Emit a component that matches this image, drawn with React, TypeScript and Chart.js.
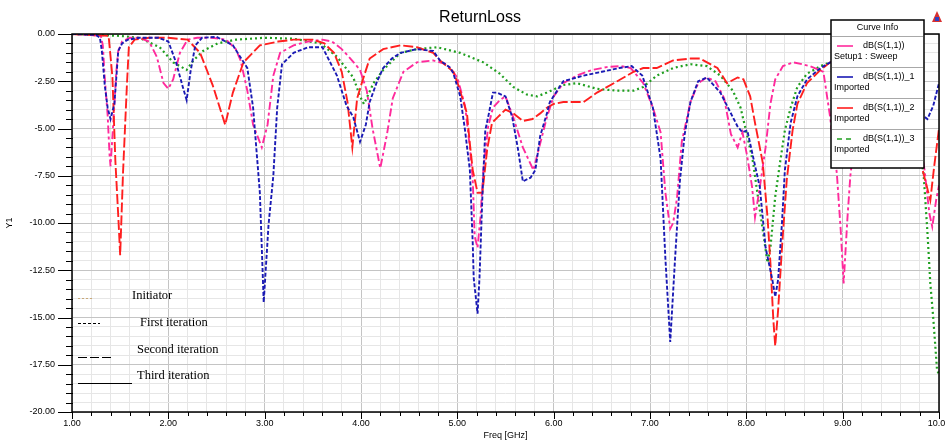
import React, { useEffect, useRef } from "react";
import { Chart, registerables } from "chart.js";

Chart.register(...registerables);

// ---------- data (frequency in GHz, return loss in dB) ----------
const xMin = 1;
const xMax = 10;
const yMin = -20;
const yMax = 0;

const seriesNames = ["dB(S(1,1))", "dB(S(1,1))_1", "dB(S(1,1))_2", "dB(S(1,1))_3"];
const seriesSources = ["Setup1 : Sweep", "Imported", "Imported", "Imported"];
const iterationLabels = ["Initiator", "First iteration", "Second iteration", "Third iteration"];

const pinkCurve: [number, number][] = [
  [1.0, 0], [1.2, -0.05], [1.3, -0.1], [1.32, -0.6], [1.34, -2.3], [1.37, -4.3], [1.39, -6.4], [1.4, -7.0],
  [1.43, -4.6], [1.46, -2.0], [1.48, -0.9], [1.52, -0.4], [1.6, -0.2], [1.7, -0.2], [1.8, -0.4], [1.88, -1.2],
  [1.95, -2.6], [2.0, -2.9], [2.05, -2.4], [2.12, -1.0], [2.2, -0.3], [2.3, -0.2], [2.45, -0.2], [2.6, -0.3],
  [2.7, -0.8], [2.75, -1.4], [2.82, -3.0], [2.88, -4.8], [2.97, -6.0], [3.03, -4.8], [3.09, -2.2], [3.16, -1.0],
  [3.3, -0.6], [3.45, -0.4], [3.6, -0.3], [3.7, -0.4], [3.8, -0.8], [3.89, -1.3], [3.99, -1.9], [4.06, -3.0],
  [4.12, -5.0], [4.2, -7.1], [4.27, -5.3], [4.33, -3.4], [4.44, -2.0], [4.58, -1.5], [4.75, -1.4], [4.89, -1.6],
  [5.0, -2.3], [5.08, -3.8], [5.13, -6.0], [5.16, -7.7], [5.18, -10.7], [5.21, -11.3], [5.24, -9.7], [5.27, -7.2],
  [5.32, -4.9], [5.37, -3.9], [5.44, -3.5], [5.5, -3.3], [5.58, -4.4], [5.68, -6.0], [5.79, -7.2], [5.86, -5.8],
  [5.93, -4.4], [6.0, -3.3], [6.1, -2.6], [6.24, -2.2], [6.4, -1.9], [6.55, -1.75], [6.7, -1.7], [6.8, -1.8],
  [6.93, -2.6], [7.03, -3.9], [7.11, -5.2], [7.16, -8.4], [7.21, -10.3], [7.24, -10.0], [7.28, -8.7], [7.33, -5.7],
  [7.42, -3.6], [7.5, -2.6], [7.59, -2.3], [7.68, -2.5], [7.77, -3.4], [7.84, -5.3], [7.91, -6.0], [7.96, -5.2],
  [8.01, -6.5], [8.06, -8.1], [8.09, -9.7], [8.14, -8.1], [8.2, -6.0], [8.25, -3.7], [8.3, -2.4], [8.38, -1.7],
  [8.49, -1.5], [8.58, -1.6], [8.66, -1.7], [8.8, -2.0], [8.87, -4.4], [8.94, -7.4], [8.98, -10.4], [9.01, -13.2],
  [9.05, -9.7], [9.08, -7.5], [9.15, -4.5], [9.25, -2.5], [9.4, -1.8], [9.55, -2.0], [9.7, -3.5], [9.8, -5.5],
  [9.85, -7.2], [9.9, -9.5], [9.93, -10.2], [9.97, -8.8], [10.0, -8.0],
];

const blueCurve: [number, number][] = [
  [1.0, 0], [1.25, -0.05], [1.29, -0.2], [1.31, -0.9], [1.34, -2.7], [1.37, -3.9], [1.4, -4.5], [1.44, -3.7],
  [1.46, -2.3], [1.48, -0.9], [1.52, -0.5], [1.58, -0.3], [1.7, -0.2], [1.9, -0.2], [2.0, -0.4], [2.08, -1.5],
  [2.15, -2.8], [2.19, -3.5], [2.23, -2.0], [2.28, -0.6], [2.35, -0.2], [2.5, -0.15], [2.67, -0.6], [2.82, -1.8],
  [2.88, -3.9], [2.95, -8.4], [2.99, -14.2], [3.04, -10.1], [3.09, -7.5], [3.13, -3.9], [3.18, -1.6], [3.3, -1.0],
  [3.45, -0.7], [3.6, -0.7], [3.75, -2.2], [3.85, -3.8], [3.92, -4.4], [3.99, -5.7], [4.05, -4.8], [4.09, -3.6],
  [4.16, -2.6], [4.23, -1.8], [4.32, -1.3], [4.41, -1.0], [4.58, -0.8], [4.75, -0.9], [4.82, -1.4], [4.93, -1.8],
  [4.96, -2.1], [5.03, -3.3], [5.08, -5.1], [5.13, -7.2], [5.16, -11.1], [5.17, -12.9], [5.21, -14.8], [5.23, -12.9],
  [5.26, -8.6], [5.29, -5.1], [5.32, -4.4], [5.37, -3.1], [5.41, -3.1], [5.5, -3.3], [5.57, -4.4], [5.63, -6.1],
  [5.68, -7.8], [5.76, -7.6], [5.81, -7.2], [5.86, -5.4], [5.93, -4.2], [5.96, -3.6], [6.1, -2.5], [6.31, -2.2],
  [6.5, -2.0], [6.68, -1.8], [6.81, -1.7], [6.92, -2.2], [7.03, -3.9], [7.11, -6.6], [7.16, -11.9], [7.21, -16.3],
  [7.26, -11.9], [7.31, -7.8], [7.36, -5.3], [7.42, -3.6], [7.5, -2.5], [7.59, -2.3], [7.73, -3.1], [7.83, -4.1],
  [7.91, -4.9], [7.96, -5.2], [8.01, -5.1], [8.07, -6.5], [8.14, -8.1], [8.2, -11.3], [8.27, -13.0], [8.3, -13.9],
  [8.33, -13.0], [8.37, -10.0], [8.4, -7.2], [8.46, -4.7], [8.53, -3.3], [8.63, -2.4], [8.77, -1.8], [8.87, -1.5],
  [9.0, -1.4], [9.2, -1.5], [9.45, -2.2], [9.65, -3.2], [9.8, -4.2], [9.88, -4.5], [9.94, -3.8], [10.0, -2.6],
];

const redCurve: [number, number][] = [
  [1.0, 0], [1.38, -0.1], [1.42, -2.3], [1.45, -6.7], [1.48, -9.6], [1.5, -11.7], [1.53, -7.3], [1.55, -5.0],
  [1.57, -2.7], [1.59, -0.7], [1.65, -0.3], [1.8, -0.2], [2.0, -0.2], [2.2, -0.3], [2.33, -1.0], [2.46, -2.7],
  [2.59, -4.8], [2.67, -3.1], [2.78, -1.5], [2.95, -0.6], [3.14, -0.4], [3.3, -0.3], [3.5, -0.3], [3.62, -0.5],
  [3.72, -1.0], [3.8, -2.0], [3.86, -3.6], [3.91, -6.0], [3.96, -3.4], [4.02, -2.4], [4.09, -1.3], [4.23, -0.8],
  [4.41, -0.6], [4.58, -0.7], [4.75, -1.0], [4.82, -1.4], [4.96, -2.0], [5.01, -2.7], [5.1, -4.2], [5.13, -5.8],
  [5.16, -7.2], [5.21, -8.4], [5.26, -8.4], [5.31, -6.1], [5.36, -4.7], [5.42, -4.4], [5.5, -4.0], [5.58, -4.2],
  [5.68, -4.6], [5.78, -4.5], [5.86, -4.2], [5.93, -3.9], [6.0, -3.7], [6.1, -3.6], [6.31, -3.6], [6.45, -3.1],
  [6.66, -2.5], [6.83, -2.0], [6.93, -1.8], [7.07, -1.8], [7.24, -1.4], [7.42, -1.3], [7.52, -1.3], [7.7, -1.8],
  [7.8, -2.6], [7.91, -2.3], [7.97, -2.4], [8.04, -3.3], [8.09, -4.7], [8.17, -6.8], [8.22, -9.7], [8.25, -12.1],
  [8.28, -15.1], [8.3, -16.5], [8.33, -14.6], [8.37, -11.3], [8.42, -7.7], [8.48, -5.1], [8.53, -3.7], [8.63, -2.6],
  [8.77, -1.9], [8.87, -1.5], [9.0, -1.4], [9.2, -1.6], [9.4, -2.2], [9.6, -3.5], [9.75, -5.5], [9.84, -7.4],
  [9.91, -8.8], [9.95, -7.0], [10.0, -5.0],
];

const greenCurve: [number, number][] = [
  [1.0, 0], [1.5, -0.1], [1.7, -0.2], [1.91, -0.7], [2.05, -1.5], [2.19, -1.9], [2.26, -1.4], [2.36, -0.9],
  [2.51, -0.5], [2.7, -0.3], [3.0, -0.2], [3.3, -0.25], [3.58, -0.5], [3.75, -1.2], [3.92, -2.3], [3.99, -3.3],
  [4.03, -3.7], [4.13, -2.6], [4.23, -1.9], [4.41, -1.0], [4.58, -0.8], [4.79, -0.7], [5.03, -1.0], [5.27, -1.5],
  [5.44, -2.1], [5.58, -2.8], [5.72, -3.2], [5.83, -3.3], [5.93, -3.1], [6.1, -2.7], [6.24, -2.6], [6.45, -2.9],
  [6.66, -3.0], [6.83, -3.0], [6.93, -2.8], [7.07, -2.2], [7.24, -1.8], [7.42, -1.6], [7.59, -1.7], [7.73, -2.2],
  [7.86, -3.0], [7.94, -3.9], [8.01, -5.4], [8.07, -6.8], [8.12, -8.6], [8.18, -10.7], [8.22, -12.1], [8.25, -11.3],
  [8.3, -8.6], [8.35, -6.8], [8.4, -5.1], [8.46, -3.9], [8.53, -2.8], [8.63, -2.1], [8.77, -1.7], [8.87, -1.5],
  [9.0, -1.4], [9.3, -1.5], [9.55, -2.2], [9.7, -3.8], [9.8, -6.0], [9.84, -7.4], [9.88, -10.5], [9.91, -13.2],
  [9.94, -15.0], [9.98, -17.8], [10.0, -18.0],
];

// ---------- styles ----------
const COLORS = ["#ff2a9c", "#1a1ab4", "#ff1f1f", "#1f9f1f"];
const DASHES = [[8, 3, 3, 3], [4, 2], [10, 3], [2, 3]];
const FONT_SANS = '"Liberation Sans", Arial, sans-serif';
const FONT_SERIF = '"Liberation Serif", "Times New Roman", serif';

const isMajorX = (v: number) => Math.abs(v - Math.round(v)) < 1e-6;
const isMajorY = (v: number) => Math.abs(v / 2.5 - Math.round(v / 2.5)) < 1e-6;

const overlayPlugin = {
  id: "overlay",
  beforeDraw(chart: any) {
    const { ctx, width, height } = chart;
    ctx.save();
    ctx.fillStyle = "#ffffff";
    ctx.fillRect(0, 0, width, height);
    ctx.restore();
  },
  afterDatasetsDraw(chart: any) {
    const { ctx, chartArea: a, scales } = chart;
    const xs = scales.x;
    const ys = scales.y;
    ctx.save();

    // plot frame
    ctx.strokeStyle = "#000";
    ctx.lineWidth = 1.5;
    ctx.setLineDash([]);
    ctx.strokeRect(a.left, a.top, a.right - a.left, a.bottom - a.top);

    // tick marks
    ctx.lineWidth = 1;
    ctx.beginPath();
    ys.ticks.forEach((t: any) => {
      const y = Math.round(ys.getPixelForValue(t.value)) + 0.5;
      const major = isMajorY(t.value);
      ctx.moveTo(a.left - (major ? 14 : 6), y);
      ctx.lineTo(a.left + (major ? 0 : 1), y);
    });
    xs.ticks.forEach((t: any) => {
      const x = Math.round(xs.getPixelForValue(t.value)) + 0.5;
      const major = isMajorX(t.value);
      ctx.moveTo(x, a.bottom);
      ctx.lineTo(x, a.bottom + (major ? 7 : 4));
    });
    ctx.stroke();

    // title
    ctx.fillStyle = "#000";
    ctx.font = `16px ${FONT_SANS}`;
    ctx.textAlign = "center";
    ctx.textBaseline = "middle";
    ctx.fillText("ReturnLoss", 480, 18);

    // small icon top-right
    ctx.fillStyle = "#d83030";
    ctx.beginPath();
    ctx.moveTo(937, 11);
    ctx.lineTo(942, 22);
    ctx.lineTo(932, 22);
    ctx.closePath();
    ctx.fill();
    ctx.fillStyle = "#3040c0";
    ctx.fillRect(935, 17, 4, 4);

    // legend box "Curve Info"
    const L = { x: 831, y: 20, w: 93, h: 148 };
    ctx.fillStyle = "#fff";
    ctx.fillRect(L.x, L.y, L.w, L.h);
    ctx.strokeStyle = "#000";
    ctx.lineWidth = 1.5;
    ctx.strokeRect(L.x, L.y, L.w, L.h);
    ctx.fillStyle = "#000";
    ctx.font = `9px ${FONT_SANS}`;
    ctx.textAlign = "center";
    ctx.fillText("Curve Info", L.x + L.w / 2, 28);
    ctx.strokeStyle = "#a8a8a8";
    ctx.lineWidth = 1;
    for (let i = 0; i <= seriesNames.length; i++) {
      const yy = 36.5 + i * 31;
      ctx.beginPath();
      ctx.moveTo(L.x + 1, yy);
      ctx.lineTo(L.x + L.w - 1, yy);
      ctx.stroke();
    }
    seriesNames.forEach((name, i) => {
      const top = 36 + i * 31;
      ctx.strokeStyle = COLORS[i];
      ctx.lineWidth = 1.6;
      ctx.setLineDash(i === 3 ? [5, 4] : []);
      ctx.beginPath();
      ctx.moveTo(837, top + 10);
      ctx.lineTo(853, top + 10);
      ctx.stroke();
      ctx.setLineDash([]);
      ctx.fillStyle = "#000";
      ctx.textAlign = "left";
      ctx.fillText(name, 863, top + 10);
      ctx.fillText(seriesSources[i], 834, top + 21);
    });

    // iteration annotation
    const rows = [
      { ty: 296, ly: 298, x1: 93, dash: [2, 2], color: "#c8a878", lw: 1, tx: 132 },
      { ty: 323, ly: 323, x1: 100, dash: [3, 2], color: "#000", lw: 1, tx: 140 },
      { ty: 350, ly: 357, x1: 111, dash: [9, 3], color: "#000", lw: 1.2, tx: 137 },
      { ty: 376, ly: 383, x1: 132, dash: [], color: "#000", lw: 1, tx: 137 },
    ];
    ctx.font = `12.5px ${FONT_SERIF}`;
    ctx.textAlign = "left";
    rows.forEach((r, i) => {
      ctx.strokeStyle = r.color;
      ctx.lineWidth = r.lw;
      ctx.setLineDash(r.dash);
      ctx.beginPath();
      ctx.moveTo(78, r.ly + 0.5);
      ctx.lineTo(r.x1, r.ly + 0.5);
      ctx.stroke();
      ctx.setLineDash([]);
      ctx.fillStyle = "#000";
      ctx.fillText(iterationLabels[i], r.tx, r.ty);
    });

    ctx.restore();
  },
};

export default function App() {
  const ref = useRef<HTMLCanvasElement | null>(null);

  useEffect(() => {
    if (!ref.current) return;
    const curves = [pinkCurve, blueCurve, redCurve, greenCurve];
    const drawOrder = [1, 2, 0, 3];
    const datasets = drawOrder.map((i) => ({
      label: seriesNames[i],
      data: curves[i].map(([x, y]) => ({ x, y })),
      borderColor: COLORS[i],
      backgroundColor: COLORS[i],
      borderWidth: i === 3 ? 2.2 : 1.9,
      borderDash: DASHES[i],
      pointRadius: 0,
      tension: 0,
      fill: false,
    }));

    const chart = new Chart(ref.current, {
      type: "line",
      data: { datasets },
      plugins: [overlayPlugin],
      options: {
        animation: false,
        responsive: false,
        maintainAspectRatio: false,
        devicePixelRatio: 1,
        layout: { padding: { top: 34, right: 6, left: 0, bottom: 0 } },
        plugins: { legend: { display: false }, title: { display: false }, tooltip: { enabled: false } },
        scales: {
          x: {
            type: "linear",
            min: xMin,
            max: xMax,
            afterFit: (s: any) => {
              s.height = 30;
              s.paddingLeft = 0;
              s.paddingRight = 0;
            },
            ticks: {
              stepSize: 0.2,
              autoSkip: false,
              maxRotation: 0,
              minRotation: 0,
              padding: 6,
              color: "#000",
              font: { family: FONT_SANS, size: 9 },
              callback: (v: any) => (isMajorX(Number(v)) ? Number(v).toFixed(2) : ""),
            },
            grid: {
              drawTicks: false,
              color: (c: any) => (c.tick && isMajorX(c.tick.value) ? "#c4c4c4" : "#e6e6e6"),
              lineWidth: 1,
            },
            border: { display: false },
            title: {
              display: true,
              text: "Freq [GHz]",
              color: "#000",
              font: { family: FONT_SANS, size: 9 },
              padding: { top: 0, bottom: 1 },
            },
          },
          y: {
            type: "linear",
            min: yMin,
            max: yMax,
            afterFit: (s: any) => {
              s.width = 72;
              s.paddingTop = 0;
              s.paddingBottom = 0;
            },
            ticks: {
              stepSize: 0.5,
              autoSkip: false,
              padding: 17,
              color: "#000",
              font: { family: FONT_SANS, size: 9 },
              callback: (v: any) => (isMajorY(Number(v)) ? Number(v).toFixed(2) : ""),
            },
            grid: {
              drawTicks: false,
              color: (c: any) => (c.tick && isMajorY(c.tick.value) ? "#c4c4c4" : "#e6e6e6"),
              lineWidth: 1,
            },
            border: { display: false },
            title: {
              display: true,
              text: "Y1",
              color: "#000",
              font: { family: FONT_SANS, size: 9 },
              padding: { top: 4, bottom: 0 },
            },
          },
        },
      },
    } as any);

    return () => chart.destroy();
  }, []);

  return (
    <div style={{ position: "absolute", left: 0, top: 0, width: 945, height: 442, background: "#fff" }}>
      <canvas ref={ref} width={945} height={442} style={{ display: "block", width: 945, height: 442 }} />
    </div>
  );
}
